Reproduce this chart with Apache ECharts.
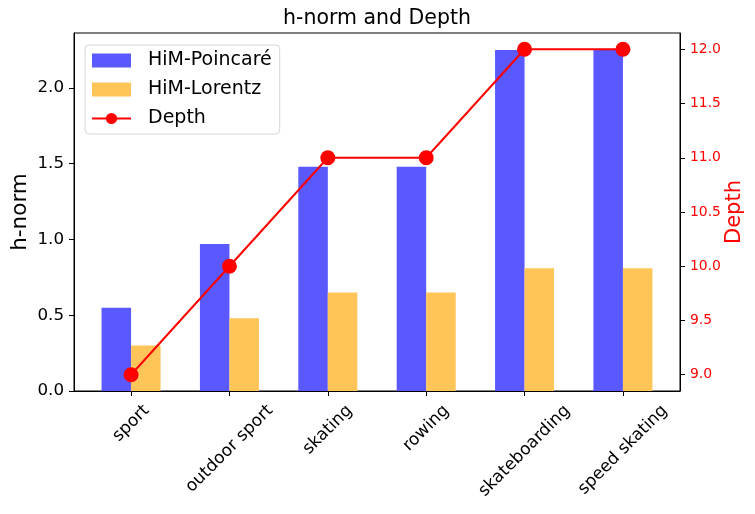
<!DOCTYPE html>
<html>
<head>
<meta charset="utf-8">
<script src="https://cdn.jsdelivr.net/npm/echarts@6/dist/echarts.min.js"></script>
<style>
html,body{margin:0;padding:0;background:#fff;}
#chart{width:755px;height:514px;}
</style>
</head>
<body>
<div id="chart"></div>
<script>
// ---- data ----
const categories = ['sport', 'outdoor sport', 'skating', 'rowing', 'skateboarding', 'speed skating'];
const poincare = [0.55, 0.97, 1.48, 1.48, 2.25, 2.25];
const lorentz = [0.30, 0.48, 0.65, 0.65, 0.81, 0.81];
const depth = [9, 10, 11, 11, 12, 12];
const leftTicks = [0.0, 0.5, 1.0, 1.5, 2.0];
const rightTicks = [9.0, 9.5, 10.0, 10.5, 11.0, 11.5, 12.0];
const categoryPositions = categories.map((c, i) => i);

const FONT = '"DejaVu Sans", sans-serif';
const XLABEL_SIZE = 17;
const measure = (() => {
  const c = document.createElement('canvas').getContext('2d');
  return (t, s) => { c.font = s + 'px ' + FONT; return c.measureText(t).width; };
})();

const chart = echarts.init(document.getElementById('chart'), null, {renderer: 'canvas'});
const option = {
  animation: false,
  backgroundColor: '#fff',
  textStyle: {fontFamily: FONT},
  title: {
    text: 'h-norm and Depth', left: 377, top: 8, padding: 0, textAlign: 'center',
    textStyle: {fontFamily: FONT, fontSize: 20.5, fontWeight: 'normal', color: '#000'}
  },
  legend: {
    orient: 'vertical', left: 85, top: 45,
    padding: [6, 8, 6, 6],
    itemWidth: 39, itemHeight: 14, itemGap: 10,
    borderColor: '#d6d6d6', borderWidth: 1, borderRadius: 4,
    backgroundColor: 'rgba(255,255,255,0.8)',
    textStyle: {fontFamily: FONT, fontSize: 19, color: '#000', padding: [0, 0, 0, 12]},
    data: [
      {name: 'HiM-Poincaré', icon: 'rect'},
      {name: 'HiM-Lorentz', icon: 'rect'},
      {name: 'Depth'}
    ]
  },
  grid: {left: 74, right: 75, top: 33, bottom: 123, containLabel: false, outerBoundsMode: 'none',
    show: true, borderColor: '#000', borderWidth: 1, backgroundColor: 'transparent'},
  xAxis: {
    type: 'value', min: -0.58, max: 5.58,
    axisLine: {show: true, onZero: false, lineStyle: {color: '#000', width: 1}},
    axisTick: {show: true, length: 5, customValues: categoryPositions, lineStyle: {color: '#000'}},
    axisLabel: {show: true, customValues: categoryPositions, formatter: () => ''},
    splitLine: {show: false}
  },
  yAxis: [
    {
      type: 'value', min: 0, max: 2.3625, position: 'left',
      name: 'h-norm', nameLocation: 'middle', nameGap: 43, nameMoveOverlap: false,
      nameTextStyle: {fontFamily: FONT, fontSize: 21.5, color: '#000'},
      axisLine: {show: true, onZero: false, lineStyle: {color: '#000', width: 1}},
      axisTick: {show: true, length: 5, customValues: leftTicks, lineStyle: {color: '#000'}},
      axisLabel: {customValues: leftTicks, margin: 10, fontSize: 16.7, fontFamily: FONT, color: '#000',
        formatter: v => v.toFixed(1)},
      splitLine: {show: false}
    },
    {
      type: 'value', min: 8.85, max: 12.15, position: 'right',
      name: 'Depth', nameLocation: 'middle', nameGap: 44, nameMoveOverlap: false,
      nameTextStyle: {fontFamily: FONT, fontSize: 21, color: '#ff0000'},
      axisLine: {show: true, onZero: false, lineStyle: {color: '#000', width: 1}},
      axisTick: {show: true, length: 5, customValues: rightTicks, lineStyle: {color: '#000'}},
      axisLabel: {customValues: rightTicks, margin: 10, fontSize: 13.9, fontFamily: FONT, color: '#ff0000',
        formatter: v => v.toFixed(1)},
      splitLine: {show: false}
    }
  ],
  series: [
    {
      name: 'HiM-Poincaré', type: 'bar', xAxisIndex: 0, yAxisIndex: 0,
      data: poincare.map((v, i) => [i, v]),
      barWidth: '30%', barGap: '0%',
      itemStyle: {color: 'rgb(89,89,255)'}, z: 2
    },
    {
      name: 'HiM-Lorentz', type: 'bar', xAxisIndex: 0, yAxisIndex: 0,
      data: lorentz.map((v, i) => [i, v]),
      barWidth: '30%', barGap: '0%',
      itemStyle: {color: 'rgb(255,197,89)'}, z: 2
    },
    {
      name: 'Depth', type: 'line', xAxisIndex: 0, yAxisIndex: 1,
      data: depth.map((v, i) => [i, v]),
      symbol: 'circle', symbolSize: 15,
      lineStyle: {color: '#ff0000', width: 2},
      itemStyle: {color: '#ff0000'}, z: 5
    },
    {
      name: 'xlabels', type: 'custom', xAxisIndex: 0, yAxisIndex: 0,
      data: categories.map((c, i) => [i, 0]),
      clip: false, silent: true, z: 10,
      renderItem: (params, api) => {
        const i = api.value(0);
        const p = api.coord([i, 0]);
        const text = categories[params.dataIndex];
        const w = measure(text, XLABEL_SIZE);
        const h = XLABEL_SIZE * 1.17;
        const c = Math.SQRT1_2;
        const cy = p[1] + 5 + 5 + (w + h) * c / 2;
        return {
          type: 'text', x: p[0], y: cy, rotation: Math.PI / 4,
          style: {text: text, fontFamily: FONT, fontSize: XLABEL_SIZE, fill: '#000',
            align: 'center', verticalAlign: 'middle'}
        };
      }
    }
  ]
};
chart.setOption(option);
</script>
</body>
</html>
